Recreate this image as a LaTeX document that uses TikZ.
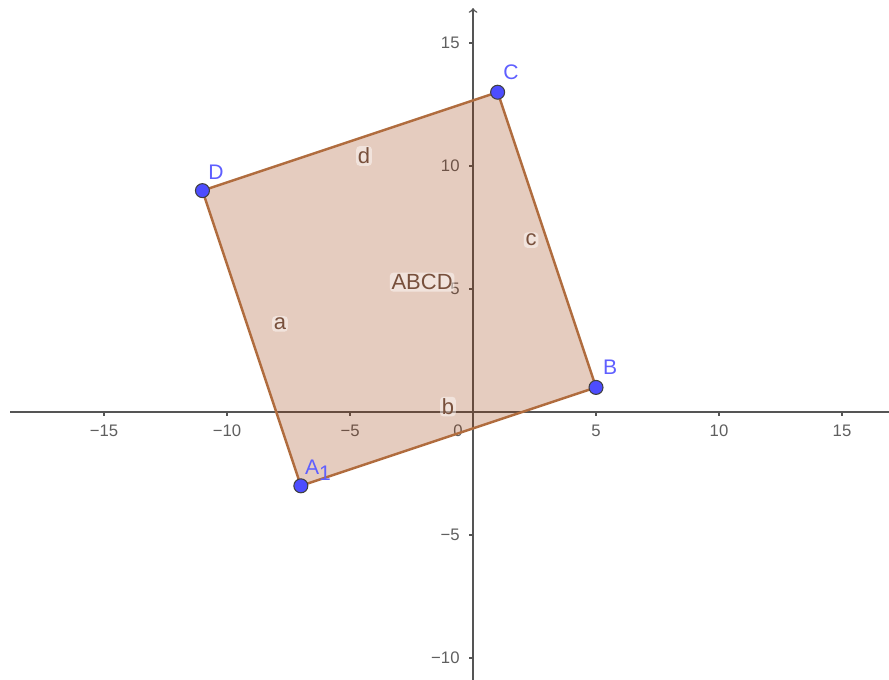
\documentclass[tikz,border=0pt]{standalone}
\usepackage{fontspec}
\setmainfont{Liberation Sans}
\definecolor{polyfill}{RGB}{153,51,0}
\definecolor{polyedge}{RGB}{176,108,62}
\definecolor{polytext}{RGB}{120,80,60}
\definecolor{ptblue}{RGB}{77,77,255}
\definecolor{axisgray}{RGB}{85,85,85}
\definecolor{tickgray}{RGB}{95,95,95}
\begin{document}
\begin{tikzpicture}[x=0.492cm, y=0.492cm, line width=0.85pt,
	ptlabel/.style={text=ptblue!90, font=\fontsize{12}{14}\selectfont},
	seglabel/.style={text=polytext, font=\fontsize{12.5}{14}\selectfont,
		fill=white, fill opacity=0.45, text opacity=1, inner sep=1pt,
		rounded corners=2pt},
	ticklabel/.style={text=tickgray, font=\fontsize{9.5}{11}\selectfont}]
	\useasboundingbox (-19.23,-10.89) rectangle (16.91,16.75);
	% vertices of the square
	\coordinate (A) at (-7,-3);
	\coordinate (B) at (5,1);
	\coordinate (C) at (1,13);
	\coordinate (D) at (-11,9);
	\coordinate (O) at (0,0);
	% axes
	\draw[axisgray] (-18.82,0) -- (16.91,0);
	\draw[axisgray, ->] (0,-10.89) -- (0,16.42);
	\foreach \i/\t in {-15/−15, -10/−10, -5/−5, 5/5, 10/10, 15/15} {
		\draw[axisgray] (\i,0) -- (\i,-0.17);
		\node[ticklabel] (xt\i) at (\i,-0.75) {\t};
	}
	\foreach \i/\t in {-10/−10, -5/−5, 5/5, 10/10, 15/15} {
		\draw[axisgray] (0,\i) -- (-0.17,\i);
		\node[ticklabel, anchor=east] (yt\i) at (-0.28,\i) {\t};
	}
	\node[ticklabel] (zero) at (-0.61,-0.75) {0};
	% polygon ABCD, see-through fill
	\filldraw[fill=polyfill, fill opacity=0.25, draw=polyedge, line width=1.4pt,
		line join=round] (A) -- (B) -- (C) -- (D) -- cycle;
	\node[seglabel] (la) at (-7.85,3.58) {a};
	\node[seglabel] (lb) at (-1.02,0.22) {b};
	\node[seglabel] (lc) at (2.36,6.99) {c};
	\node[seglabel] (ld) at (-4.43,10.41) {d};
	\node[seglabel] (lpoly) at (-2.07,5.28) {ABCD};
	% points
	\foreach \p in {A,B,C,D}
		\filldraw[fill=ptblue, draw=black!75, line width=0.6pt] (\p) circle[radius=0.14cm];
	\node[ptlabel] (nA) at (-6.30,-2.36) {A\raisebox{-0.55ex}{1}};
	\node[ptlabel] (nB) at (5.57,1.83) {B};
	\node[ptlabel] (nC) at (1.54,13.82) {C};
	\node[ptlabel] (nD) at (-10.45,9.76) {D};
\end{tikzpicture}
\end{document}
